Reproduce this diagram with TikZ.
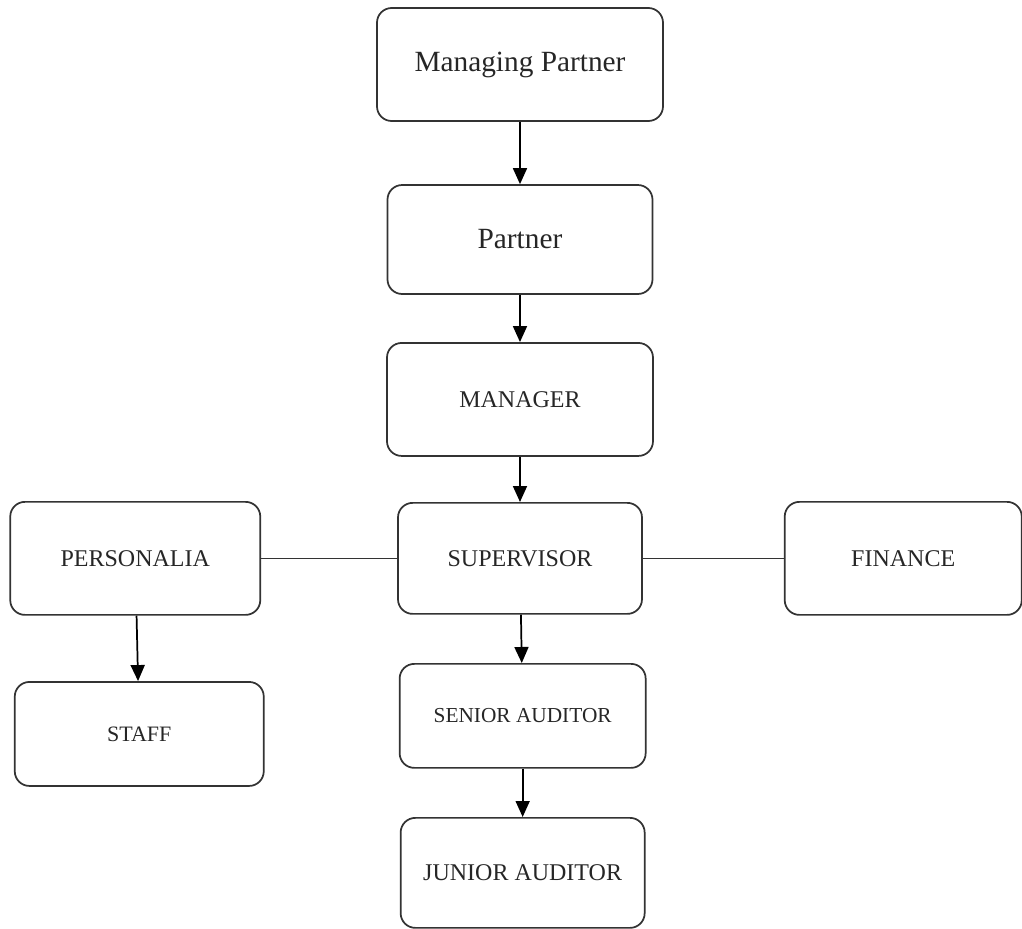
\documentclass[tikz,border=0pt]{standalone}
\usepackage{fontspec}
\setmainfont{Liberation Serif}
\usetikzlibrary{positioning, arrows.meta}

\begin{document}
\begin{tikzpicture}[>={Triangle[length=12pt,width=10.5pt]}, line width=1.3pt,
    box/.style={draw=black!80, text=black!85, rounded corners=11pt, align=center}]
    \useasboundingbox (-390pt,48.375pt) rectangle (376.5pt,-648.375pt);

    \node [box,
        minimum width=214.5pt,
        minimum height=84.75pt,
        font=\fontsize{22}{26}\selectfont
    ] (mpartner) at (0,0) {Managing Partner};

    \node [box,
        minimum width=198.75pt,
        minimum height=81.75pt,
        font=\fontsize{22}{26}\selectfont,
        below=46.7pt of mpartner
    ] (partner) {Partner};

    \node [box,
        minimum width=199.5pt,
        minimum height=84.75pt,
        font=\fontsize{18}{22}\selectfont,
        below=35.4pt of partner
    ] (manager) {MANAGER};

    \node [box,
        minimum width=183pt,
        minimum height=83.25pt,
        font=\fontsize{18}{22}\selectfont,
        below=33.9pt of manager
    ] (supervisor) {SUPERVISOR};

    \node [box,
        minimum width=187.5pt,
        minimum height=84.75pt,
        font=\fontsize{18}{22}\selectfont,
        left=102pt of supervisor
    ] (personalia) {PERSONALIA};

    \node [box,
        minimum width=177.75pt,
        minimum height=84.75pt,
        font=\fontsize{18}{22}\selectfont,
        right=105.75pt of supervisor
    ] (finance) {FINANCE};

    \node [box,
        minimum width=186.75pt,
        minimum height=78pt,
        font=\fontsize{16.5}{20}\selectfont,
        below=49pt of personalia,
        xshift=3pt
    ] (staff) {STAFF};

    \node [box,
        minimum width=184.5pt,
        minimum height=78pt,
        font=\fontsize{16}{20}\selectfont,
        below=36.2pt of supervisor,
        xshift=2pt
    ] (senior) {SENIOR AUDITOR};

    \node [box,
        minimum width=183pt,
        minimum height=82.5pt,
        font=\fontsize{18}{22}\selectfont,
        below=36.2pt of senior
    ] (junior) {JUNIOR AUDITOR};

    % links between the units %
    \draw[->] (mpartner) -- (partner);
    \draw[->] (partner) -- (manager);
    \draw[->] (manager) -- (supervisor);
    \draw[->] (supervisor) -- (senior);
    \draw[->] (senior) -- (junior);
    \draw[->] (personalia) -- (staff);
    \draw[black!80] (personalia) -- (supervisor);
    \draw[black!80] (supervisor) -- (finance);
\end{tikzpicture}
\end{document}
